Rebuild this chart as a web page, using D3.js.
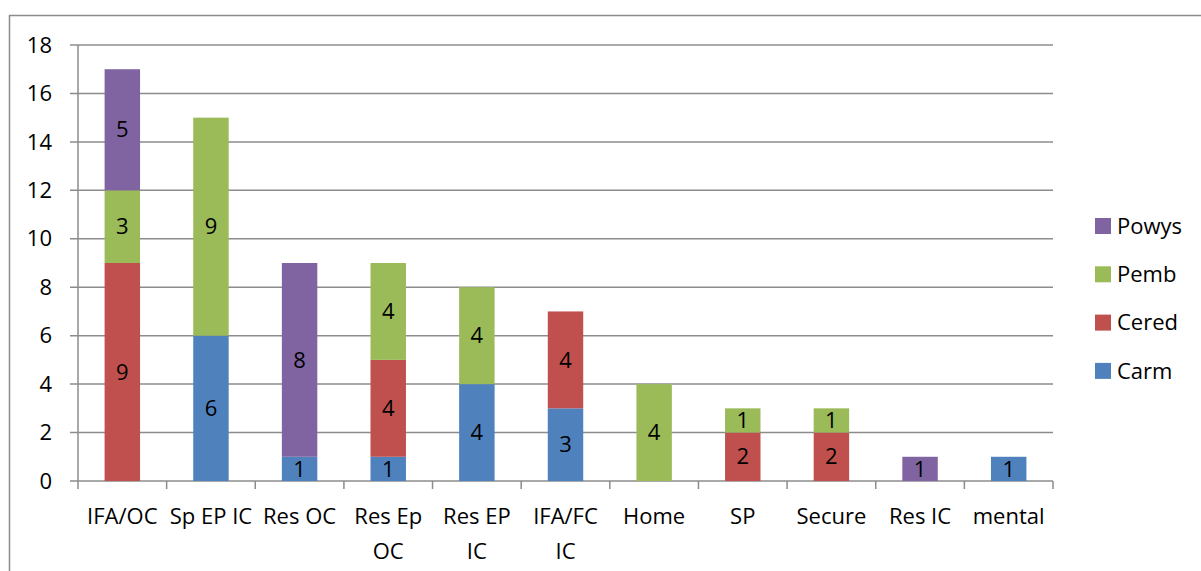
<!DOCTYPE html>
<html>
<head>
<meta charset="utf-8">
<script src="https://cdn.jsdelivr.net/npm/d3@7"></script>
<style>
  html, body { margin: 0; padding: 0; background: #fff; }
  svg { display: block; font-family: "Open Sans", "Liberation Sans", sans-serif; }
</style>
</head>
<body>
<svg id="chart" width="1201" height="571"></svg>
<script>
// Placement types and counts per county
const categories = ["IFA/OC", "Sp EP IC", "Res OC", "Res Ep OC", "Res EP IC", "IFA/FC IC", "Home", "SP", "Secure", "Res IC", "mental"];
const seriesNames = ["Carm", "Cered", "Pemb", "Powys"];
const carm  = [0, 6, 1, 1, 4, 3, 0, 0, 0, 0, 1];
const cered = [9, 0, 0, 4, 0, 4, 0, 2, 2, 0, 0];
const pemb  = [3, 9, 0, 4, 4, 0, 4, 1, 1, 0, 0];
const powys = [5, 0, 8, 0, 0, 0, 0, 0, 0, 1, 0];
const yTicks = [0, 2, 4, 6, 8, 10, 12, 14, 16, 18];
const colors = ["#4F81BD", "#C0504D", "#9BBB59", "#8064A2"];

const svg = d3.select("#chart");
const plotL = 78, plotR = 1053, plotT = 45, plotB = 481;
const fontSize = 22;

// outer chart frame
svg.append("rect").attr("x", 9.5).attr("y", 15.5).attr("width", 1220).attr("height", 600)
  .attr("fill", "none").attr("stroke", "#8c8c8c").attr("stroke-width", 1.5);

const x = d3.scaleBand().domain(categories).range([plotL, plotR]).paddingInner(0.6).paddingOuter(0.3);
const xOuter = d3.scaleBand().domain(categories).range([plotL, plotR]);
const y = d3.scaleLinear().domain([0, 18]).range([plotB, plotT]);

// horizontal gridlines
svg.append("g").selectAll("line").data(yTicks).join("line")
  .attr("x1", plotL - 8).attr("x2", plotR)
  .attr("y1", d => y(d)).attr("y2", d => y(d))
  .attr("stroke", "#8c8c8c").attr("stroke-width", 1.5);

// y axis line
svg.append("line").attr("x1", plotL).attr("x2", plotL).attr("y1", plotT).attr("y2", plotB + 8)
  .attr("stroke", "#8c8c8c").attr("stroke-width", 1.5);

// x tick marks between categories
svg.append("g").selectAll("line").data(categories).join("line")
  .attr("x1", d => xOuter(d) + xOuter.bandwidth())
  .attr("x2", d => xOuter(d) + xOuter.bandwidth())
  .attr("y1", plotB).attr("y2", plotB + 8)
  .attr("stroke", "#8c8c8c").attr("stroke-width", 1.5);

// y tick labels
svg.append("g").selectAll("text").data(yTicks).join("text")
  .attr("x", 52).attr("y", d => y(d)).attr("dy", "0.35em")
  .attr("text-anchor", "end").attr("font-size", fontSize).attr("fill", "#000")
  .text(d => d);

// stacked series
const rows = categories.map((c, i) => ({ cat: c, Carm: carm[i], Cered: cered[i], Pemb: pemb[i], Powys: powys[i] }));
const stack = d3.stack().keys(seriesNames)(rows);

const layers = svg.append("g").selectAll("g").data(stack).join("g")
  .attr("fill", (d, i) => colors[i]);

layers.selectAll("rect").data(d => d.filter(s => s[1] - s[0] > 0)).join("rect")
  .attr("x", d => x(d.data.cat))
  .attr("width", x.bandwidth())
  .attr("y", d => y(d[1]))
  .attr("height", d => y(d[0]) - y(d[1]));

layers.selectAll("text").data(d => d.filter(s => s[1] - s[0] > 0)).join("text")
  .attr("x", d => x(d.data.cat) + x.bandwidth() / 2)
  .attr("y", d => (y(d[0]) + y(d[1])) / 2)
  .attr("dy", "0.35em")
  .attr("text-anchor", "middle").attr("font-size", fontSize).attr("fill", "#000")
  .text(d => d[1] - d[0]);

// category labels, wrapped to the band width
const wrapped = {
  "Res Ep OC": ["Res Ep", "OC"],
  "Res EP IC": ["Res EP", "IC"],
  "IFA/FC IC": ["IFA/FC", "IC"]
};
const xl = svg.append("g").selectAll("text").data(categories).join("text")
  .attr("x", d => xOuter(d) + xOuter.bandwidth() / 2)
  .attr("y", 524)
  .attr("text-anchor", "middle").attr("font-size", fontSize).attr("fill", "#000");
xl.each(function(d) {
  const lines = wrapped[d] || [d];
  const t = d3.select(this);
  lines.forEach((ln, k) => {
    t.append("tspan").attr("x", xOuter(d) + xOuter.bandwidth() / 2).attr("dy", k === 0 ? 0 : 35).text(ln);
  });
});

// legend
const legendOrder = [3, 2, 1, 0];
const lg = svg.append("g").selectAll("g").data(legendOrder).join("g")
  .attr("transform", (d, i) => `translate(1095, ${226 + i * 48.3})`);
lg.append("rect").attr("x", 0).attr("y", -8).attr("width", 16).attr("height", 16)
  .attr("fill", d => colors[d]);
lg.append("text").attr("x", 22).attr("y", 0).attr("dy", "0.35em")
  .attr("font-size", fontSize).attr("fill", "#000").text(d => seriesNames[d]);
</script>
</body>
</html>
